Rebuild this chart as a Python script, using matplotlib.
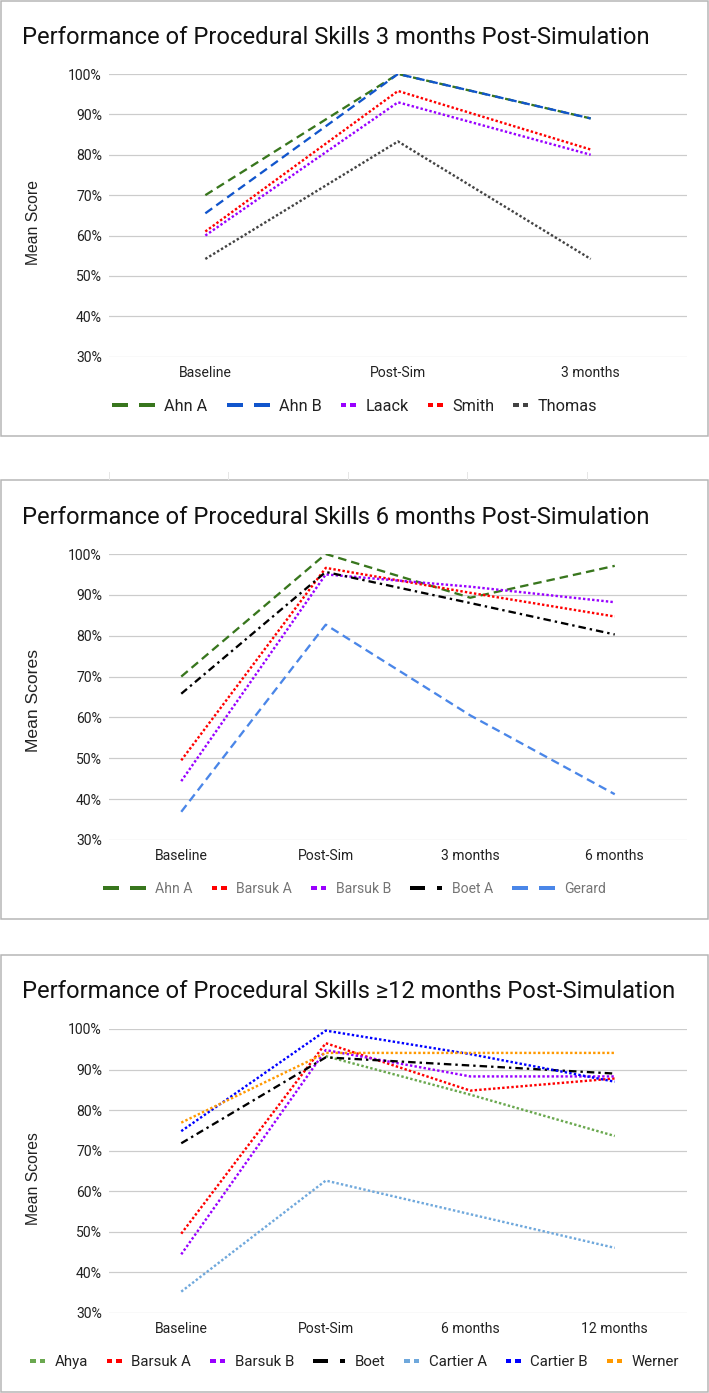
import numpy as np
import matplotlib
matplotlib.use("Agg")
import matplotlib.pyplot as plt
from matplotlib.patches import Rectangle

plt.rcParams['lines.scale_dashes'] = False

W, H, DPI = 709, 1393, 100

# ---------------- data ----------------
cats1 = ["Baseline", "Post-Sim", "3 months"]
ahn_a_1 = [70.0, 100.0, 89.0]
ahn_b_1 = [65.5, 100.0, 89.0]
laack_1 = [60.0, 93.0, 80.0]
smith_1 = [61.0, 95.8, 81.3]
thomas_1 = [54.2, 83.3, 54.2]

cats2 = ["Baseline", "Post-Sim", "3 months", "6 months"]
ahn_a_2 = [70.0, 100.0, 89.3, 97.1]
barsuk_a_2 = [49.5, 96.6, 90.5, 84.7]
barsuk_b_2 = [44.4, 95.0, 92.0, 88.2]
boet_a_2 = [65.8, 95.6, 88.0, 80.3]
gerard_2 = [36.9, 82.7, 60.5, 41.2]

cats3 = ["Baseline", "Post-Sim", "6 months", "12 months"]
ahya_3 = [np.nan, 93.3, 83.8, 73.6]
barsuk_a_3 = [49.5, 96.5, 84.8, 87.8]
barsuk_b_3 = [44.4, 94.8, 88.3, 88.3]
boet_3 = [71.8, 93.0, 91.0, 89.0]
cartier_a_3 = [35.2, 62.6, 54.3, 46.0]
cartier_b_3 = [74.8, 99.6, 93.8, 87.0]
werner_3 = [76.9, 94.1, 94.1, 94.1]

yticks = [30, 40, 50, 60, 70, 80, 90, 100]

# ---------------- styles ----------------
PX = 72.0 / DPI  # points per pixel
DASH = (0, (8.5 * PX, 5 * PX))
DOT = (0, (2.4 * PX, 2.2 * PX))
DASHDOT = (0, (7.5 * PX, 4 * PX, 2.4 * PX, 4 * PX))

fig = plt.figure(figsize=(W / DPI, H / DPI), dpi=DPI)
fig.patch.set_facecolor("white")

ov = fig.add_axes([0, 0, 1, 1], zorder=5)
ov.set_xlim(0, W)
ov.set_ylim(H, 0)
ov.axis("off")
ov.patch.set_alpha(0)

FONT = ["Roboto", "DejaVu Sans"]
TICKC = "#222222"


def px_axes(x0, y_top, x1, y_bot):
    return [x0 / W, 1 - y_bot / H, (x1 - x0) / W, (y_bot - y_top) / H]


def make_panel(box, axrect, title, title_y, title_size, ylabel, ylab_y, ylab_size,
               cats, series, leg_y, leg_size, leg_color):
    bx0, by0, bx1, by1 = box
    ov.add_patch(Rectangle((bx0, by0), bx1 - bx0, by1 - by0, fill=False,
                           edgecolor="#b5b5b5", lw=1.5 * PX, zorder=1))
    ax = fig.add_axes(px_axes(*axrect))
    ax.set_facecolor("none")
    x = np.arange(len(cats))
    for label, vals, color, ls, lw in series:
        ax.plot(x, vals, color=color, linestyle=ls, lw=lw * PX,
                dash_capstyle="butt", solid_capstyle="butt")
    ax.set_xlim(-0.5, len(cats) - 0.5)
    ax.set_ylim(30, 100)
    ax.set_yticks(yticks)
    ax.set_yticklabels([f"{v}%" for v in yticks], fontfamily=FONT,
                       fontsize=14 * PX, color=TICKC)
    ax.set_xticks(x)
    ax.set_xticklabels(cats, fontfamily=FONT, fontsize=14 * PX, color=TICKC)
    ax.tick_params(axis="y", length=0, pad=7 * PX)
    ax.tick_params(axis="x", length=0, pad=9 * PX)
    ax.yaxis.grid(True, color="#cccccc", lw=1.2 * PX)
    ax.set_axisbelow(True)
    for s in ax.spines.values():
        s.set_visible(False)
    ov.text(22, title_y, title, ha="left", va="center", fontfamily=FONT,
            fontsize=title_size * PX, color="#111111")
    ov.text(33, ylab_y, ylabel, ha="center", va="center", rotation=90,
            fontfamily=["Liberation Sans", "DejaVu Sans"], fontsize=ylab_size * PX,
            color="#222222")
    # legend (manual, centred on the figure)
    r = fig.canvas.get_renderer()
    widths = []
    for label, vals, color, ls, lw in series:
        t = ov.text(0, 0, label, fontfamily=FONT, fontsize=leg_size * PX)
        widths.append(t.get_window_extent(renderer=r).width)
        t.remove()
    mw = {"dash": 43, "dot": 15, "dashdot": 32}
    gap_t, gap_i = 9.5, 19
    items = []
    for (label, vals, color, ls, lw), w in zip(series, widths):
        k = "dash" if ls == DASH else ("dot" if ls == DOT else "dashdot")
        items.append((label, color, k, w))
    total = sum(mw[k] + gap_t + w for _, _, k, w in items) + gap_i * (len(items) - 1)
    cx = (W - total) / 2
    th = 4.5
    for label, color, k, w in items:
        if k == "dash":
            rects = [(cx, 16), (cx + 27, 16)]
        elif k == "dot":
            rects = [(cx, 5.5), (cx + 9.5, 5.5)]
        else:
            rects = [(cx, 15), (cx + 27, 5)]
        for rx, rw in rects:
            ov.add_patch(Rectangle((rx, leg_y - th / 2), rw, th, facecolor=color,
                                   edgecolor="none", zorder=3))
        cx += mw[k] + gap_t
        ov.text(cx, leg_y + 0.711 * leg_size / 2, label, ha="left", va="baseline",
                fontfamily=FONT, fontsize=leg_size * PX, color=leg_color)
        cx += w + gap_i
    return ax


# ---------------- panel 1 ----------------
series1 = [
    ("Ahn A", ahn_a_1, "#38761d", DASH, 2.3),
    ("Ahn B", ahn_b_1, "#1155cc", DASH, 2.3),
    ("Laack", laack_1, "#9900ff", DOT, 2.4),
    ("Smith", smith_1, "#ff0000", DOT, 2.4),
    ("Thomas", thomas_1, "#434343", DOT, 2.4),
]
make_panel((1, 1, 707.5, 436), (109, 74, 687, 356.7),
           "Performance of Procedural Skills 3 months Post-Simulation", 37, 23.8,
           "Mean Score", 222.5, 15.8, cats1, series1, 405, 16.2, "#222222")

# ---------------- panel 2 ----------------
for xm in [109, 228, 348, 467, 587]:
    ov.plot([xm, xm], [472, 479], color="#e6e6e6", lw=1 * PX)
series2 = [
    ("Ahn A", ahn_a_2, "#38761d", DASH, 2.3),
    ("Barsuk A", barsuk_a_2, "#ff0000", DOT, 2.4),
    ("Barsuk B", barsuk_b_2, "#9900ff", DOT, 2.4),
    ("Boet A", boet_a_2, "#000000", DASHDOT, 2.3),
    ("Gerard", gerard_2, "#4a86e8", DASH, 2.3),
]
make_panel((1, 480, 707.5, 919), (109, 554, 687, 840),
           "Performance of Procedural Skills 6 months Post-Simulation", 517, 23.8,
           "Mean Scores", 700, 17.5, cats2, series2, 888, 14.0, "#757575")

# ---------------- panel 3 ----------------
series3 = [
    ("Ahya", ahya_3, "#6aa84f", DOT, 2.4),
    ("Barsuk A", barsuk_a_3, "#ff0000", DOT, 2.4),
    ("Barsuk B", barsuk_b_3, "#9900ff", DOT, 2.4),
    ("Boet", boet_3, "#000000", DASHDOT, 2.3),
    ("Cartier A", cartier_a_3, "#6fa8dc", DOT, 2.4),
    ("Cartier B", cartier_b_3, "#0000ff", DOT, 2.4),
    ("Werner", werner_3, "#ff9900", DOT, 2.4),
]
make_panel((1, 955, 707.5, 1391.5), (109, 1029, 687, 1312.7),
           "Performance of Procedural Skills \u226512 months Post-Simulation", 992, 23.8,
           "Mean Scores", 1178.5, 15.8, cats3, series3, 1361, 15.0, "#222222")

fig.savefig("out.png", dpi=DPI, facecolor="white")
